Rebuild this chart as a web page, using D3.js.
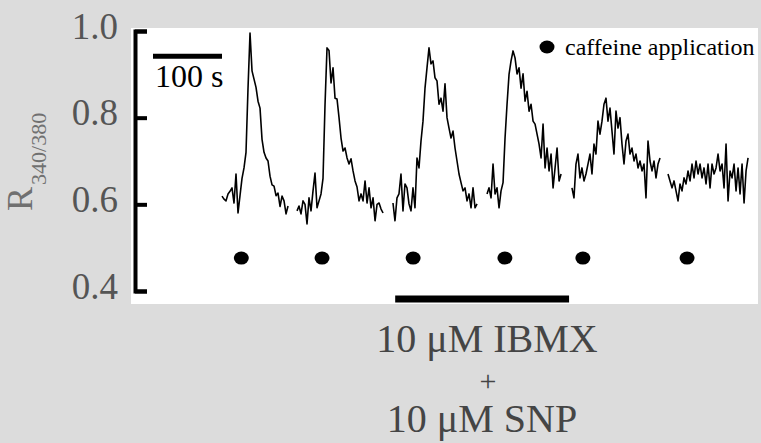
<!DOCTYPE html>
<html>
<head>
<meta charset="utf-8">
<script src="https://cdn.jsdelivr.net/npm/d3@7"></script>
<style>
  html, body { margin: 0; padding: 0; background: #dcdcdc; }
  svg { display: block; }
</style>
</head>
<body>
<svg id="chart" width="761" height="443"></svg>
<script>
// Fura-2 ratio trace (R340/380), sampled every 2.9 s; recording paused between caffeine pulses
const sampleInterval = 2.9;
const segmentStarts = [100, 208.7, 347.8, 484.1, 607.2, 746.4];

const seg1 = [0.619,0.612,0.608,0.624,0.630,0.638,0.603,0.670,0.580,0.620,
              0.660,0.684,0.720,0.868,0.995,0.908,0.889,0.870,0.838,0.822,
              0.750,0.720,0.707,0.700,0.665,0.645,0.642,0.620,0.626,0.595,
              0.619,0.608,0.578,0.596];
const seg2 = [0.585,0.596,0.578,0.608,0.600,0.555,0.615,0.585,0.631,0.672,
              0.592,0.608,0.624,0.660,0.830,0.961,0.955,0.880,0.915,0.845,
              0.843,0.800,0.753,0.723,0.730,0.707,0.693,0.705,0.677,0.654,
              0.640,0.608,0.624,0.608,0.654,0.603,0.638,0.592,0.615,0.562,
              0.600,0.603,0.589,0.580];
const seg3 = [0.603,0.562,0.615,0.624,0.670,0.585,0.647,0.638,0.601,0.585,
              0.638,0.592,0.707,0.684,0.746,0.792,0.868,0.915,0.961,0.924,
              0.931,0.892,0.885,0.831,0.845,0.815,0.878,0.800,0.776,0.753,
              0.769,0.730,0.700,0.670,0.650,0.631,0.638,0.608,0.624,0.592,
              0.638,0.592,0.601];
const seg4 = [0.624,0.638,0.615,0.693,0.624,0.638,0.592,0.631,0.650,0.753,
              0.831,0.900,0.931,0.954,0.938,0.901,0.915,0.868,0.901,0.838,
              0.861,0.815,0.831,0.792,0.785,0.762,0.739,0.707,0.785,0.684,
              0.730,0.677,0.716,0.638,0.684,0.730,0.654,0.670];
const seg5 = [0.638,0.615,0.693,0.716,0.661,0.684,0.654,0.670,0.693,0.716,
              0.670,0.739,0.716,0.792,0.762,0.792,0.831,0.845,0.792,0.822,
              0.769,0.716,0.815,0.776,0.800,0.739,0.693,0.746,0.762,0.716,
              0.730,0.700,0.716,0.684,0.700,0.677,0.693,0.615,0.746,0.700,
              0.677,0.700,0.661,0.693,0.707];
const seg6 = [0.670,0.654,0.638,0.654,0.631,0.608,0.647,0.631,0.661,0.647,
              0.677,0.654,0.693,0.661,0.700,0.670,0.693,0.661,0.684,0.647,
              0.693,0.638,0.693,0.670,0.684,0.716,0.677,0.693,0.638,0.739,
              0.608,0.677,0.661,0.693,0.631,0.684,0.624,0.693,0.603,0.677,
              0.707];
const segments = [seg1, seg2, seg3, seg4, seg5, seg6];

// Caffeine pulses (s) and the ratio level at which their markers sit
const caffeineTimes = [128, 245, 377, 510, 623, 774];
const caffeineMarkerLevel = 0.476;

// IBMX + SNP perfusion window (s)
const drugWindow = [351, 603];
const drugBarLevel = 0.3815;

// Time scale bar
const scaleBarSeconds = [0, 100];
const scaleBarLevel = 0.942;

const yTicks = [0.4, 0.6, 0.8, 1.0];

const SERIF = '"Liberation Serif"';

const svg = d3.select("#chart");
const W = 761, H = 443;

svg.append("rect").attr("width", W).attr("height", H).attr("fill", "#dcdcdc");

const x = d3.scaleLinear().domain([0, 900]).range([153, 153 + 900 * 0.69]);
const y = d3.scaleLinear().domain([0.4, 1.0]).range([291, 31]);

// white panel behind the recording
svg.append("rect")
  .attr("x", 131).attr("y", 28).attr("width", 627).attr("height", 276)
  .attr("fill", "#ffffff");

// y axis (bracket style, ticks pointing inward)
const yAxis = d3.axisLeft(y)
  .tickValues(yTicks)
  .tickSizeInner(-12)
  .tickSizeOuter(-12)
  .tickPadding(17)
  .tickFormat(d3.format(".1f"));

const gy = svg.append("g").attr("transform", "translate(135,0)").call(yAxis);
gy.select(".domain").attr("stroke", "#000").attr("stroke-width", 4).attr("fill", "none");
gy.selectAll(".tick line").attr("stroke", "#000").attr("stroke-width", 4);
gy.selectAll(".tick text")
  .attr("fill", "#555555")
  .style("font-family", SERIF)
  .style("font-size", "37px")
  .attr("dy", "0.19em");

// y label R340/380
const yl = svg.append("text")
  .attr("transform", "translate(32,211) rotate(-90)")
  .style("font-family", SERIF)
  .attr("fill", "#707070")
  .attr("text-anchor", "start");
yl.append("tspan").style("font-size", "36px").text("R");
yl.append("tspan").style("font-size", "22px").attr("dx", 2).attr("dy", 14).text("340/380");

// trace segments
const line = d3.line()
  .x(d => x(d.t))
  .y(d => y(d.v));

segments.forEach((vals, s) => {
  const pts = vals.map((v, i) => ({ t: segmentStarts[s] + i * sampleInterval, v }));
  svg.append("path")
    .datum(pts)
    .attr("d", line)
    .attr("fill", "none")
    .attr("stroke", "#000")
    .attr("stroke-width", 1.6)
    .attr("stroke-linejoin", "round");
});

// caffeine markers
svg.selectAll("ellipse.caf")
  .data(caffeineTimes)
  .join("ellipse")
  .attr("class", "caf")
  .attr("cx", d => x(d))
  .attr("cy", y(caffeineMarkerLevel))
  .attr("rx", 7.5).attr("ry", 6.5)
  .attr("fill", "#000");

// scale bar
svg.append("line")
  .attr("x1", x(scaleBarSeconds[0])).attr("x2", x(scaleBarSeconds[1]))
  .attr("y1", y(scaleBarLevel)).attr("y2", y(scaleBarLevel))
  .attr("stroke", "#000").attr("stroke-width", 5);
svg.append("text")
  .attr("x", x(scaleBarSeconds[0]) + 2).attr("y", 87)
  .style("font-family", SERIF)
  .style("font-size", "32px").attr("fill", "#000")
  .text("100 s");

// drug application bar
svg.append("line")
  .attr("x1", x(drugWindow[0])).attr("x2", x(drugWindow[1]))
  .attr("y1", y(drugBarLevel)).attr("y2", y(drugBarLevel))
  .attr("stroke", "#000").attr("stroke-width", 7);

// legend
svg.append("ellipse")
  .attr("cx", 547).attr("cy", 47).attr("rx", 7.5).attr("ry", 6.5).attr("fill", "#000");
svg.append("text")
  .attr("x", 565).attr("y", 55)
  .style("font-family", SERIF)
  .style("font-size", "24px").attr("fill", "#000")
  .text("caffeine application");

// treatment label
const lab = svg.append("g").attr("fill", "#454545").attr("text-anchor", "middle");
lab.append("text").attr("x", 487).attr("y", 352).style("font-family", SERIF).style("font-size", "40px").text("10 μM IBMX");
lab.append("text").attr("x", 488).attr("y", 391).style("font-family", SERIF).style("font-size", "30px").text("+");
lab.append("text").attr("x", 482).attr("y", 432).style("font-family", SERIF).style("font-size", "40px").text("10 μM SNP");
</script>
</body>
</html>
